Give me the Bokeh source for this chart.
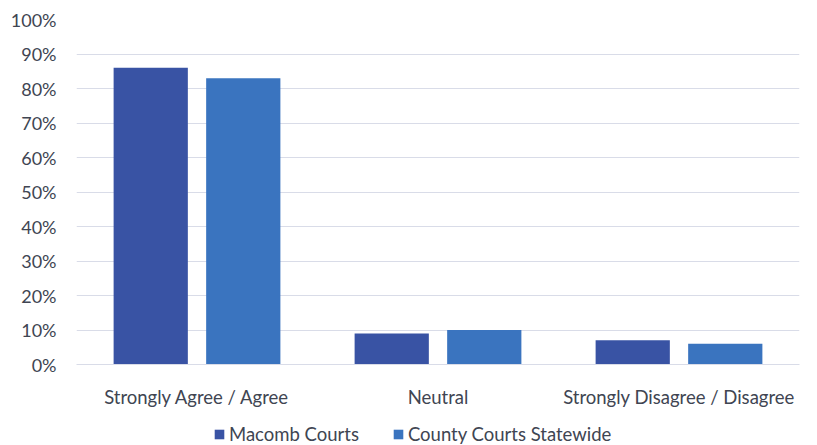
from bokeh.plotting import figure
from bokeh.layouts import column
from bokeh.models import ColumnDataSource, FactorRange, Legend, LegendItem, FixedTicker, PrintfTickFormatter
from bokeh.transform import dodge
from bokeh.embed import file_html
from bokeh.resources import INLINE

categories = ["Strongly Agree / Agree", "Neutral", "Strongly Disagree / Disagree"]
macomb = [86, 9, 7]
statewide = [83, 10, 6]
series_names = ["Macomb Courts", "County Courts Statewide"]
y_ticks = [0, 10, 20, 30, 40, 50, 60, 70, 80, 90, 100]

FONT = "Lato"
TXT = "#404552"
C1 = "#3953A4"
C2 = "#3A74BF"

src = ColumnDataSource(dict(cat=categories, m=macomb, s=statewide))

p = figure(x_range=FactorRange(*categories), y_range=(0, 100),
           width=817, height=415, output_backend="svg", toolbar_location=None,
           min_border_left=76, min_border_right=18, min_border_top=19, min_border_bottom=51)

p.vbar(x=dodge("cat", -0.192, range=p.x_range), top="m", width=0.308, source=src,
       fill_color=C1, line_color=None)
p.vbar(x=dodge("cat", 0.192, range=p.x_range), top="s", width=0.308, source=src,
       fill_color=C2, line_color=None)

p.outline_line_color = None
p.xgrid.grid_line_color = None
p.ygrid.grid_line_color = "#D9DCE8"
p.ygrid.grid_line_width = 1.2

p.yaxis.ticker = FixedTicker(ticks=y_ticks)
p.yaxis.formatter = PrintfTickFormatter(format="%d%%")
for ax in (p.xaxis[0], p.yaxis[0]):
    ax.axis_line_color = None
    ax.major_tick_line_color = None
    ax.minor_tick_line_color = None
    ax.major_label_text_font = FONT
    ax.major_label_text_color = TXT
p.xaxis.axis_line_color = "#D9DCE8"
p.yaxis.major_label_text_font_size = "18px"
p.xaxis.major_label_text_font_size = "18.5px"
p.xaxis.major_label_standoff = 15
p.yaxis.major_label_standoff = 14

# legend strip below the chart (its frame is aligned with the chart frame by the column)
lg = figure(width=817, height=30, output_backend="svg", toolbar_location=None,
            x_range=(0, 1), y_range=(0, 1), x_axis_location=None, y_axis_location=None,
            min_border=0, outline_line_color=None)
lg.grid.visible = False
off = ColumnDataSource(dict(x=[-10], top=[0]))
l1 = lg.vbar(x="x", top="top", width=0.1, source=off, fill_color=C1, line_color=None)
l2 = lg.vbar(x="x", top="top", width=0.1, source=off, fill_color=C2, line_color=None)
legend = Legend(items=[LegendItem(label=series_names[0], renderers=[l1]),
                       LegendItem(label=series_names[1], renderers=[l2])],
                orientation="horizontal", location=(137, 0),
                label_text_font=FONT, label_text_color=TXT, label_text_font_size="18.5px",
                glyph_width=12, glyph_height=12, spacing=33, label_standoff=4,
                border_line_color=None, background_fill_alpha=0, padding=0, margin=0)
lg.add_layout(legend, "center")

layout = column(p, lg, spacing=0)
open("out.html", "w").write(file_html(layout, INLINE))
